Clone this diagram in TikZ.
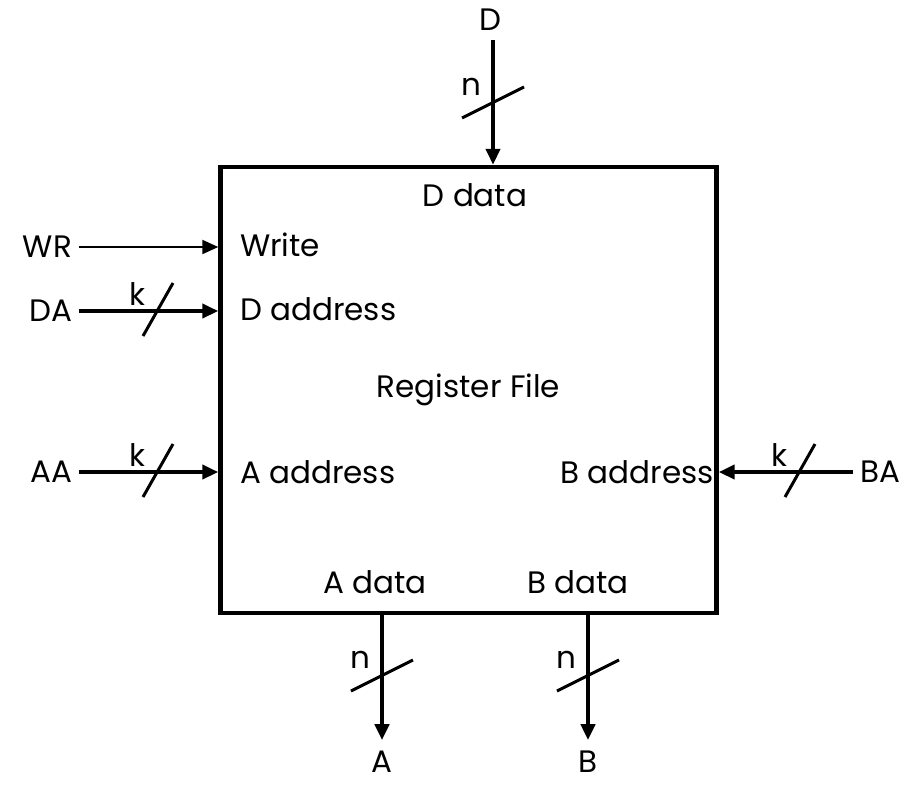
\documentclass[tikz,border=0pt]{standalone}
\usepackage{fontspec}
\setmainfont{Poppins}
\usetikzlibrary{arrows.meta,calc,positioning}

\begin{document}
\begin{tikzpicture}[x=0.5pt,y=-0.5pt,
  font=\fontsize{15.5}{18}\selectfont,
  bus/.style={line width=2.3pt,-{Triangle[length=8pt,width=7pt]}},
  wire/.style={line width=1pt,-{Triangle[length=8pt,width=7pt]}},
  slash/.style={line width=1.5pt}]
\useasboundingbox (0,0) rectangle (919,784);

\node[draw,line width=2.2pt,minimum width=248pt,minimum height=223pt] (rf) at (468.5,390) {Register File};

% ports inside the box
\node[anchor=west] (write) at (233,245) {Write};
\node[anchor=west] (daddr) at (233,309) {D address};
\node[anchor=west] (aaddr) at (233,472) {A address};
\node[anchor=east] (baddr) at (721,472) {B address};
\node (ddata) at (475,195) {D data};
\node (adata) at (375,582) {A data};
\node (bdata) at (578,582) {B data};

% outside signals
\node[anchor=east] (wr) at (79,247) {WR};
\node[anchor=east] (da) at (79,311) {DA};
\node[anchor=east] (aa) at (79,472) {AA};
\node[anchor=west] (ba) at (853,472) {BA};
\node (d) at (490,20) {D};
\node (a) at (382,762) {A};
\node (b) at (588,762) {B};
\coordinate (d-in) at (493,40);

\draw[wire] (wr.east) -- (wr.east -| rf.west);
\draw[bus] (da.east) -- (da.east -| rf.west);
\draw[bus] (aa.east) -- (aa.east -| rf.west);
\draw[bus] (ba.west) -- (ba.west -| rf.east);
\draw[bus] (d-in) -- (d-in |- rf.north);
\draw[bus,shorten >=2pt] (a.north |- rf.south) -- (a.north);
\draw[bus,shorten >=2pt] (b.north |- rf.south) -- (b.north);

% bus widths
\coordinate (da-s) at (158,311);
\coordinate (aa-s) at (158,472);
\coordinate (ba-s) at (800,472);
\coordinate (d-s) at (493,103);
\coordinate (a-s) at (382,676);
\coordinate (b-s) at (588,676);
\foreach \p in {da-s,aa-s,ba-s}{
  \draw[slash] ($(\p)+(-15,25)$) -- ($(\p)+(15,-28)$);
  \node at ($(\p)+(-21,-17)$) {k};
}
\foreach \p in {d-s,a-s,b-s}{
  \draw[slash] ($(\p)+(-31,15)$) -- ($(\p)+(31,-16)$);
  \node at ($(\p)+(-22,-16)$) {n};
}
\end{tikzpicture}
\end{document}
